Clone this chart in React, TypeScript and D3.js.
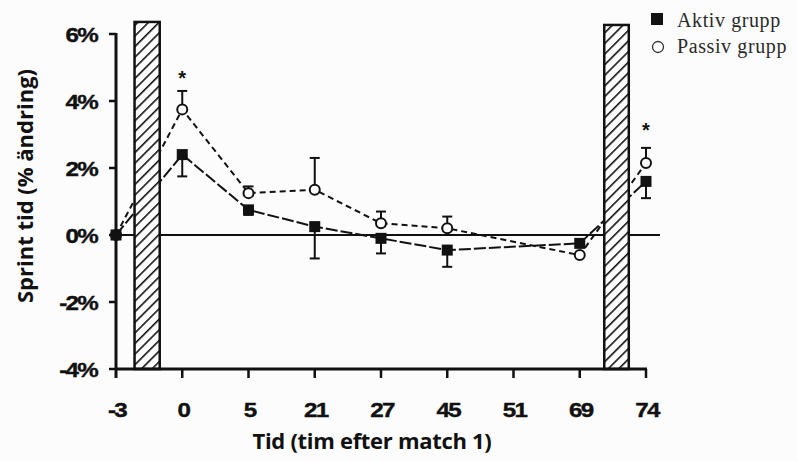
import React from "react";
import * as d3 from "d3";

const categories = ["-3", "0", "5", "21", "27", "45", "51", "69", "74"];
const aktiv: (number | null)[] = [0, 2.4, 0.75, 0.25, -0.1, -0.45, null, -0.25, 1.6];
const aktivErr: (number | null)[] = [0, 0.65, 0.15, 0.95, 0.45, 0.5, null, 0.1, 0.5];
const passiv: (number | null)[] = [0, 3.75, 1.25, 1.35, 0.35, 0.2, null, -0.6, 2.15];
const passivErr: (number | null)[] = [0, 0.55, 0.2, 0.95, 0.35, 0.35, null, 0.1, 0.45];
const yTicks = [-4, -2, 0, 2, 4, 6];
const matchPeriods = [
  { from: 0.28, to: 0.66, top: 6.36 },
  { from: 7.37, to: 7.74, top: 6.27 },
];
const significant = [
  { index: 1, value: 4.75 },
  { index: 8, value: 3.2 },
];

const W = 798;
const H = 461;

export default function App() {
  const x = d3.scaleLinear().domain([0, categories.length - 1]).range([116, 646]);
  const y = d3.scaleLinear().domain([-4, 6]).range([369, 34]);

  const pts = (vals: (number | null)[]) =>
    vals
      .map((v, i) => ({ i, v }))
      .filter((d) => d.v !== null) as { i: number; v: number }[];

  const line = d3
    .line<{ i: number; v: number }>()
    .x((d) => x(d.i))
    .y((d) => y(d.v));

  const aPts = pts(aktiv);
  const pPts = pts(passiv);

  const tickFont = "'Liberation Sans', Arial, sans-serif";
  const titleFont = "'Open Sans', 'Noto Sans', sans-serif";
  const legendFont = "'Liberation Serif', 'Times New Roman', serif";

  return (
    <svg
      width={W}
      height={H}
      style={{ position: "absolute", left: 0, top: 0, background: "#fcfcfc" }}
    >
      <defs>
        <pattern id="hatch" patternUnits="userSpaceOnUse" width="7.5" height="7.5" patternTransform="rotate(45)">
          <rect width="7.5" height="7.5" fill="#fff" />
          <line x1="0" y1="0" x2="0" y2="7.5" stroke="#111" strokeWidth="3.2" />
        </pattern>
      </defs>

      {/* zero line */}
      <line x1={x(0)} x2={660} y1={y(0)} y2={y(0)} stroke="#111" strokeWidth={2} />

      {/* data lines */}
      <path d={line(pPts) || ""} fill="none" stroke="#111" strokeWidth={2} strokeDasharray="6,4" />
      <path d={line(aPts) || ""} fill="none" stroke="#111" strokeWidth={2} strokeDasharray="12,3" />

      {/* match periods */}
      {matchPeriods.map((m, k) => (
        <rect
          key={k}
          x={x(m.from)}
          width={x(m.to) - x(m.from)}
          y={y(m.top)}
          height={y(-4) - y(m.top)}
          fill="url(#hatch)"
          stroke="#111"
          strokeWidth={2.5}
        />
      ))}

      {/* error bars */}
      {aPts.map((d) => {
        const e = aktivErr[d.i] || 0;
        if (e < 0.12) return null;
        return (
          <g key={"ae" + d.i} stroke="#111" strokeWidth={2}>
            <line x1={x(d.i)} x2={x(d.i)} y1={y(d.v)} y2={y(d.v - e)} />
            <line x1={x(d.i) - 5} x2={x(d.i) + 5} y1={y(d.v - e)} y2={y(d.v - e)} />
          </g>
        );
      })}
      {pPts.map((d) => {
        const e = passivErr[d.i] || 0;
        if (e < 0.12) return null;
        return (
          <g key={"pe" + d.i} stroke="#111" strokeWidth={2}>
            <line x1={x(d.i)} x2={x(d.i)} y1={y(d.v)} y2={y(d.v + e)} />
            <line x1={x(d.i) - 5} x2={x(d.i) + 5} y1={y(d.v + e)} y2={y(d.v + e)} />
          </g>
        );
      })}

      {/* markers */}
      {pPts.map((d) => (
        <circle key={"pm" + d.i} cx={x(d.i)} cy={y(d.v)} r={5} fill="#fff" stroke="#111" strokeWidth={2} />
      ))}
      {aPts.map((d) => (
        <rect key={"am" + d.i} x={x(d.i) - 5.5} y={y(d.v) - 5.5} width={11} height={11} fill="#111" />
      ))}

      {/* significance */}
      {significant.map((s) => (
        <text key={"s" + s.index} x={x(s.index)} y={y(s.value) + 9} textAnchor="middle" fontFamily={tickFont} fontWeight="bold" fontSize={20} fill="#111">
          *
        </text>
      ))}

      {/* y axis */}
      <line x1={x(0)} x2={x(0)} y1={y(6) - 1} y2={y(-4) + 9} stroke="#111" strokeWidth={3} />
      {yTicks.map((t) => (
        <g key={"yt" + t}>
          <line x1={x(0) - 7} x2={x(0)} y1={y(t)} y2={y(t)} stroke="#111" strokeWidth={2.5} />
          <text
            transform={`translate(97, ${y(t) + 8}) scale(1.15, 1)`}
            textAnchor="end"
            fontFamily={tickFont}
            fontWeight="bold"
            fontSize={21}
            letterSpacing={-1.5}
            stroke="#111"
            strokeWidth={0.4}
            fill="#111"
          >
            {t + "%"}
          </text>
        </g>
      ))}

      {/* x axis */}
      <line x1={x(0)} x2={x(8) + 1} y1={y(-4)} y2={y(-4)} stroke="#111" strokeWidth={3} />
      {categories.map((c, i) => (
        <g key={"xt" + c}>
          {i > 0 && <line x1={x(i)} x2={x(i)} y1={y(-4)} y2={y(-4) + 9} stroke="#111" strokeWidth={2.5} />}
          <text
            transform={`translate(${x(i) + 1}, ${y(-4) + 48}) scale(1.15, 1)`}
            textAnchor="middle"
            fontFamily={tickFont}
            fontWeight="bold"
            fontSize={21}
            letterSpacing={-1.5}
            stroke="#111"
            strokeWidth={0.4}
            fill="#111"
          >
            {c}
          </text>
        </g>
      ))}

      {/* titles */}
      <text x={372} y={449} textAnchor="middle" fontFamily={titleFont} fontWeight={700} fontSize={22} letterSpacing={-0.3} fill="#111">
        Tid (tim efter match 1)
      </text>
      <text
        transform={`translate(33, 186) rotate(-90)`}
        textAnchor="middle"
        fontFamily={titleFont}
        fontWeight={700}
        fontSize={22}
        letterSpacing={0}
        fill="#111"
      >
        Sprint tid (% ändring)
      </text>

      {/* legend */}
      <rect x={651} y={13} width={12} height={12} fill="#111" />
      <text x={677} y={27} fontFamily={legendFont} fontSize={20} letterSpacing={0.6} fill="#2a2a2a">
        Aktiv grupp
      </text>
      <circle cx={658} cy={47} r={5.5} fill="#fff" stroke="#333" strokeWidth={1.3} />
      <text x={677} y={53} fontFamily={legendFont} fontSize={20} letterSpacing={0.6} fill="#2a2a2a">
        Passiv grupp
      </text>
    </svg>
  );
}
